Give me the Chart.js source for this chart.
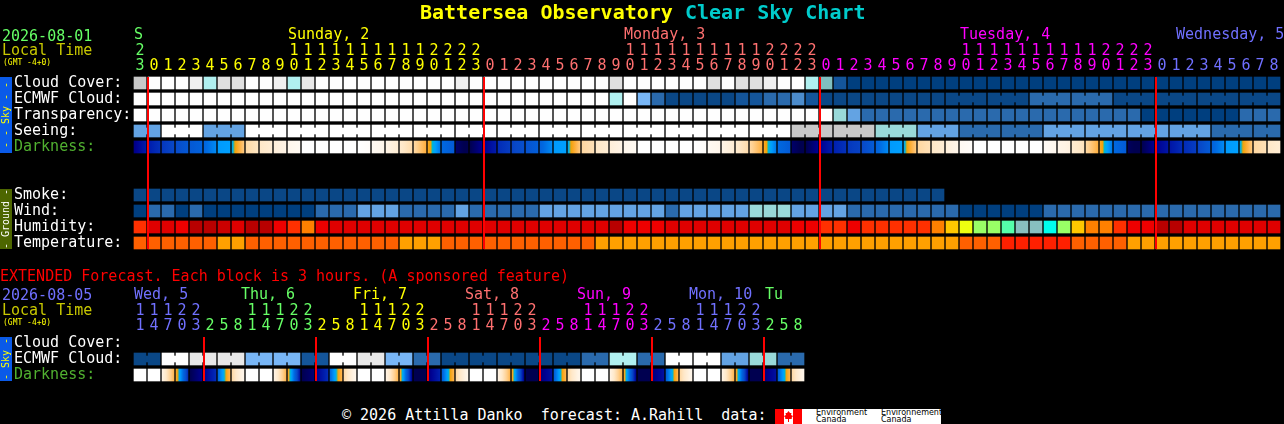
<!DOCTYPE html>
<html>
<head>
<meta charset="utf-8">
<title>Battersea Observatory Clear Sky Chart</title>
<script src="https://cdn.jsdelivr.net/npm/chart.js@4"></script>
<style>
  html, body { margin: 0; padding: 0; background: #000; width: 1284px; height: 424px; overflow: hidden; }
  body { position: relative; font-family: "DejaVu Sans Mono", monospace; font-size: 15px; color: #fff; }
  canvas { position: absolute; left: 0; display: block; }
  .txt { position: absolute; white-space: pre; line-height: 15px; }
  #title { left: 420px; top: 0; font-size: 20px; line-height: 24px; font-weight: bold; color: #ffff00; }
  #title span { color: #00cccc; }
  .small { font-size: 8px; line-height: 10px; color: #ffff00; }
  #logo { position: absolute; left: 775px; top: 409px; width: 166px; height: 15px; background: #fff; overflow: hidden; }
  #logo i { position: absolute; top: 0; height: 15px; width: 9px; background: #ff0000; }
  #logo b { position: absolute; font: 8px/8px "DejaVu Sans", sans-serif; color: #000; white-space: pre; }
</style>
</head>
<body>
<canvas id="skyChart" width="1284" height="262" style="top:0"></canvas>
<canvas id="extChart" width="1284" height="125" style="top:265px"></canvas>

<div class="txt" id="title">Battersea Observatory<span> Clear Sky Chart</span></div>
<div class="txt" style="left:2px;top:29px;color:#66ff66">2026-08-01</div>
<div class="txt" style="left:2px;top:43px;color:#c8c800">Local Time</div>
<div class="txt small" style="left:3px;top:58px">(GMT -4+0)</div>
<div class="txt" style="left:0;top:269px;color:#ff0000">EXTENDED Forecast. Each block is 3 hours. (A sponsored feature)</div>
<div class="txt" style="left:2px;top:288px;color:#7070ff">2026-08-05</div>
<div class="txt" style="left:2px;top:303px;color:#c8c800">Local Time</div>
<div class="txt small" style="left:3px;top:318px">(GMT -4+0)</div>
<div class="txt" style="left:342px;top:408px">© 2026 Attilla Danko  forecast: A.Rahill  data:</div>
<div id="logo">
  <i style="left:0"></i><i style="left:18px"></i>
  <svg width="9" height="15" style="position:absolute;left:9px;top:0"><polygon fill="#ff0000" points="4.5,2 6,4 7.5,4 7,6 9,7 7.5,9 8,10 5,10 5,13 4,13 4,10 1,10 1.5,9 0,7 2,6 1.5,4 3,4"/></svg>
  <b style="left:41px;top:0">Environment</b><b style="left:41px;top:7px">Canada</b>
  <b style="left:106px;top:0">Environnement</b><b style="left:106px;top:7px">Canada</b>
</div>

<script>
// hourly forecast (1 block = 1 hour)
var hours = [23,
  0,1,2,3,4,5,6,7,8,9,10,11,12,13,14,15,16,17,18,19,20,21,22,23,
  0,1,2,3,4,5,6,7,8,9,10,11,12,13,14,15,16,17,18,19,20,21,22,23,
  0,1,2,3,4,5,6,7,8,9,10,11,12,13,14,15,16,17,18,19,20,21,22,23,
  0,1,2,3,4,5,6,7,8];
var daySpans = [1, 24, 24, 24, 9];
var dayNames = ["S", "Sunday, 2", "Monday, 3", "Tuesday, 4", "Wednesday, 5"];
var dayCols = [0, 11, 35, 59, 74.43];
var midnights = [1, 25, 49, 73];

var rowNames = ["Cloud Cover:", "ECMWF Cloud:", "Transparency:", "Seeing:", "Darkness:", "", "", "Smoke:", "Wind:", "Humidity:", "Temperature:"];

var cloudCover = [75,100,100,100,90,70,80,80,100,100,
  90,70,85,100,100,100,100,100,100,100,
  100,100,100,90,100,100,100,100,100,100,
  100,100,100,100,80,100,100,100,100,100,
  100,80,100,80,80,90,100,100,70,55,
  10,0,0,0,0,0,0,0,0,0,
  0,0,0,0,0,0,0,0,0,0,
  0,0,0,0,0,0,0,0,0,0,0,0];
var ecmwfCloud = [100,100,100,100,100,100,100,100,100,100,
  100,100,100,100,100,100,100,100,100,100,
  100,100,100,100,100,100,100,100,100,100,
  100,100,100,100,70,100,50,20,5,5,
  5,5,5,10,10,20,20,30,10,5,
  5,5,5,5,5,5,5,5,5,5,
  5,5,5,5,20,20,20,20,20,20,
  5,5,5,5,5,5,5,5,5,5,5,5];
var transparency = [100,100,100,100,100,100,100,100,100,100,
  100,100,100,100,100,100,100,100,100,100,
  100,100,100,100,100,100,100,100,100,100,
  100,100,100,100,100,100,100,100,100,100,
  100,100,100,100,100,100,100,100,100,100,
  60,40,20,20,20,20,20,20,20,20,
  20,20,20,20,20,20,20,20,20,20,
  20,20,0,0,0,0,0,0,0,20,20,20];
var seeing = [40,40,100,100,100,40,40,40,100,100,
  100,100,100,100,100,100,100,100,100,100,
  100,100,100,100,100,100,100,100,100,100,
  100,100,100,100,100,100,100,100,100,100,
  100,100,100,100,100,100,100,75,75,75,
  75,75,75,60,60,60,40,40,40,20,
  20,20,20,20,20,40,40,40,40,40,
  40,40,40,40,40,40,40,20,20,20,20,20];
var smoke = [5,5,5,5,5,5,5,5,5,5,
  5,5,5,5,5,5,5,5,5,5,
  5,5,5,5,5,5,5,5,5,5,
  5,5,5,5,5,5,5,5,5,5,
  5,5,5,5,5,5,5,5,5,5,
  5,5,5,5,5,5,5,5];
var wind = [0,20,20,0,20,0,0,0,0,0,
  0,0,0,20,20,20,40,40,40,20,
  20,20,20,40,20,20,20,20,20,40,
  40,40,40,40,40,40,40,40,20,40,
  40,40,40,40,60,60,60,40,40,40,
  40,20,20,20,20,20,20,20,20,0,
  0,0,0,0,0,20,20,20,20,20,
  20,20,20,20,20,20,20,20,20,20,20,20];
var humidity = [85,95,95,90,100,100,97,95,100,100,
  90,85,80,90,95,95,95,95,95,95,
  95,95,95,95,95,95,95,95,95,95,
  95,95,95,95,100,90,90,90,95,95,
  95,95,95,95,95,95,95,90,90,85,
  85,90,85,85,85,85,85,80,75,70,
  65,65,60,50,50,55,65,75,80,80,
  85,90,90,100,100,95,95,95,95,95,95,95];
var temperature = [21,21,21,21,21,21,18,18,21,21,
  21,21,21,21,21,21,21,21,21,18,
  18,18,21,21,21,21,21,21,21,21,
  21,21,21,18,18,18,18,18,18,18,
  18,18,18,18,18,18,18,18,18,18,
  18,18,18,18,18,18,18,18,18,21,
  21,21,24,24,24,24,24,21,21,21,
  21,18,18,18,18,18,18,18,18,18,18,18];
// limiting magnitude at the left and right edge of each darkness block
var darkStart = [5.9,5.3,4.8,4.4,4.0,3.6,2.6,2.3,-0.4,-1,
  -1.6,-2.5,-4,-4,-4,-4,-4,-3,-2,-1.2,
  -0.3,1.4,3.5,6.1,6.3,5.8,5.0,4.6,4.2,3.7,
  2.6,2.3,-0.3,-1,-1.6,-2.5,-4,-4,-4,-4,
  -4,-3,-2,-1.2,-0.3,1.4,3.5,6.1,6.3,5.8,
  5.2,4.8,4.5,3.7,2.6,2.3,-0.3,-1,-1.6,-3,
  -4,-4,-4,-4,-4,-3.2,-2.2,-1.3,-0.3,1.4,
  3.5,6.2,6.3,5.8,5.4,5.0,4.6,3.7,2.6,2.3,-0.3,-1];
var darkEnd = [5.3,4.9,4.5,4.0,3.7,2.9,2.5,0.2,-0.9,-1.4,
  -2,-3,-4,-4,-4,-4,-3.5,-2.4,-1.4,-0.5,
  1,3.2,3.9,6.4,5.8,5.3,4.7,4.3,3.8,2.9,
  2.5,0.2,-0.7,-1.4,-2,-3,-4,-4,-4,-4,
  -3.5,-2.4,-1.4,-0.5,1,3.2,3.9,6.4,5.8,5.3,
  4.9,4.6,3.9,2.9,2.5,0.2,-0.7,-1.4,-2.2,-3.5,
  -4,-4,-4,-4,-4,-2.6,-1.8,-0.8,1,3.2,
  3.9,6.4,5.8,5.4,5.0,4.7,3.9,2.9,2.5,0.2,-0.7,-1.4];

// extended forecast (1 block = 3 hours)
var extHours = [11,14,17,20,23,2,5,8,11,14,17,20,23,2,5,8,11,14,17,20,23,2,5,8,
  11,14,17,20,23,2,5,8,11,14,17,20,23,2,5,8,11,14,17,20,23,2,5,8];
var extSpans = [5, 8, 8, 8, 8, 8, 3];
var extDayNames = ["Wed, 5", "Thu, 6", "Fri, 7", "Sat, 8", "Sun, 9", "Mon, 10", "Tu"];
var extDayCols = [0, 7.64, 15.64, 23.64, 31.64, 39.64, 45.07];
var extMidnights = [5, 13, 21, 29, 37, 45];
var extRowNames = ["Cloud Cover:", "ECMWF Cloud:", "Darkness:"];
var extEcmwf = [5,5,100,100,85,85,85,85,50,50,50,50,10,10,100,100,85,85,50,50,20,20,5,5,
  5,5,5,5,5,5,5,5,20,20,70,70,20,20,100,100,100,100,40,40,60,60,20,20];
var extDarkStart = [-4,-4,-2,1.3,6.3,5.8,3.6,-0.4,-4,-4,-2,1.3,6.3,5.8,3.6,-0.4,-4,-4,-2,1.3,6.3,6,3.8,-0.4,
  -4,-4,-2,1.3,6.3,6,3.8,-0.4,-4,-4,-2,1.3,6.3,6,3.8,-0.4,-4,-4,-2,1.3,6.3,6,3.8,-0.4];
var extDarkEnd = [-4,-4,0.8,5,5.8,5,0.8,-2.3,-4,-4,0.8,5.5,6,5,0.8,-2.3,-4,-4,0.8,5.8,6.3,5.2,0.8,-2.3,
  -4,-4,0.8,5.8,6.3,5.5,0.8,-2.3,-4,-4,0.8,5.8,6.3,5.5,0.8,-2.3,-4,-4,0.8,5.8,6.3,5.5,0.8,-2.3];

// colours
var dayColors = ["#66ff66", "#ffff00", "#ff7070", "#ff00ff", "#7070ff"];
var extDayColors = ["#7070ff", "#66ff66", "#ffff00", "#ff7070", "#ff00ff", "#7070ff", "#66ff66"];
var skyColors = {0:"#003f7f", 5:"#0a4786", 10:"#14559a", 20:"#2a6aad", 30:"#4c8ccc", 40:"#63a3e3", 50:"#78b6f6",
  55:"#80c0c0", 60:"#99d9d9", 70:"#b0f0f0", 75:"#c8c8c8", 80:"#e0e0e0", 85:"#e8e8e8", 90:"#f0f0f0", 100:"#fefefe"};
var humidityColors = {100:"#b80000", 97:"#cc0000", 95:"#e00000", 90:"#ee0000", 85:"#ff3000", 80:"#ff8000",
  75:"#ffc800", 70:"#eeff10", 65:"#99ff66", 60:"#55ffaa", 55:"#00ffee", 50:"#88c0c0"};
var tempColors = {18:"#ffa000", 21:"#ff6000", 24:"#ff2000"};
var darkRamp = [[-4,255,255,255],[-2,255,244,230],[-1,255,232,200],[0,255,208,144],[1,255,176,64],[1.9,240,160,0],
  [2,0,192,192],[2.1,0,176,224],[2.5,0,160,255],[3.5,0,104,224],[4.5,8,72,200],[5.2,0,32,176],[5.8,0,0,144],[6.3,0,0,80]];

var FONT = "'DejaVu Sans Mono', monospace";

function rampColor(m) {
  for (var i = 1; i < darkRamp.length; i++) {
    if (m <= darkRamp[i][0]) {
      var a = darkRamp[i - 1], b = darkRamp[i];
      var t = Math.max(0, (m - a[0]) / (b[0] - a[0]));
      return "rgb(" + Math.round(a[1] + (b[1] - a[1]) * t) + "," + Math.round(a[2] + (b[2] - a[2]) * t) + "," + Math.round(a[3] + (b[3] - a[3]) * t) + ")";
    }
  }
  return "rgb(0,0,80)";
}

function spanIndex(spans, col) {
  var end = 0;
  for (var i = 0; i < spans.length; i++) {
    end += spans[i];
    if (col < end) return i;
  }
  return spans.length - 1;
}

// one row of blocks
function blockRow(values, row, colors) {
  return {
    data: values.map(function (v, i) { return { x: i, y: [row - 0.375, row + 0.375] }; }),
    backgroundColor: values.map(function (v) { return colors[v]; }),
    barThickness: 12,
    grouped: false,
    borderWidth: 0
  };
}

// thin piece joining blocks that come from one 3 hour forecast
function bridgeRow(values, row, colors, first, size) {
  var pts = [], cols = [];
  values.forEach(function (v, i) {
    if (i >= first && i + 1 < values.length && ((i - first) % size) != size - 1) {
      pts.push({ x: i + 0.5, y: [row - 0.1875, row + 0.1875] });
      cols.push(colors[v]);
    }
  });
  return { data: pts, backgroundColor: cols, barThickness: 2, grouped: false, borderWidth: 0 };
}

function darkRow(starts, ends, row) {
  return {
    data: starts.map(function (v, i) { return { x: i, y: [row - 0.375, row + 0.375] }; }),
    backgroundColor: function (ctx) {
      var i = ctx.dataIndex;
      if (i === undefined || !ctx.chart.scales.x) return "#000";
      var px = ctx.chart.scales.x.getPixelForValue(i);
      if (!isFinite(px)) return "#000";
      var g = ctx.chart.ctx.createLinearGradient(px - 6, 0, px + 6, 0);
      for (var k = 0; k <= 12; k++) {
        g.addColorStop(k / 12, rampColor(starts[i] + (ends[i] - starts[i]) * k / 12));
      }
      return g;
    },
    barThickness: 12,
    grouped: false,
    borderWidth: 0
  };
}

// red midnight lines, day names and the Sky / Ground side bars
var overlayPlugin = {
  id: "overlay",
  afterDatasetsDraw: function (chart, args, opts) {
    var c = chart.ctx, x = chart.scales.x;
    c.save();
    c.fillStyle = "#ff0000";
    opts.midnights.forEach(function (m) {
      c.fillRect(x.getPixelForValue(m - 0.5), opts.lineTop, 2, opts.lineBottom - opts.lineTop);
    });
    c.font = "15px " + FONT;
    c.textAlign = "left";
    c.textBaseline = "middle";
    opts.dayNames.forEach(function (name, i) {
      c.fillStyle = opts.dayColors[i];
      c.fillText(name, x.getPixelForValue(opts.dayCols[i]) - 6, opts.dayY);
    });
    opts.bars.forEach(function (b) {
      c.fillStyle = b.fill;
      c.fillRect(0, b.top, 12, b.bottom - b.top);
      c.save();
      c.translate(6, (b.top + b.bottom) / 2);
      c.rotate(-Math.PI / 2);
      c.font = "10px " + FONT;
      c.textAlign = "center";
      c.fillStyle = b.color;
      c.fillText(b.text, 0, 0);
      c.restore();
    });
    c.restore();
  }
};

function makeChart(id, datasets, cfg) {
  var labelRows = [];
  cfg.rowNames.forEach(function (n, i) { if (n) labelRows.push(i); });
  return new Chart(document.getElementById(id), {
    type: "bar",
    data: { datasets: datasets },
    plugins: [overlayPlugin],
    options: {
      responsive: false,
      animation: false,
      devicePixelRatio: 1,
      events: [],
      layout: { padding: { left: 14, right: 3, top: 0, bottom: cfg.bottom } },
      plugins: { legend: { display: false }, tooltip: { enabled: false }, overlay: cfg.overlay },
      scales: {
        x: {
          type: "linear",
          position: "top",
          offset: false,
          min: -0.5,
          max: 81.5,
          grid: { display: false, drawTicks: false },
          border: { display: false },
          afterFit: function (s) {
            s.height = cfg.axisHeight;
            s.paddingLeft = 0;
            s.paddingRight = 0;
          },
          afterBuildTicks: function (s) {
            s.ticks = cfg.hours.map(function (h, i) { return { value: i }; });
          },
          ticks: {
            autoSkip: false,
            maxRotation: 0,
            minRotation: 0,
            padding: 1,
            font: { family: FONT, size: 15, lineHeight: 1 },
            color: function (ctx) { return cfg.colors[spanIndex(cfg.spans, ctx.index)]; },
            callback: function (v) {
              var h = cfg.hours[v];
              return [h >= 10 ? String(Math.floor(h / 10)) : "", String(h % 10)];
            }
          }
        },
        y: {
          type: "linear",
          reverse: true,
          min: -0.5,
          max: cfg.rowNames.length - 0.5,
          grid: { display: false, drawTicks: false },
          border: { display: false },
          afterFit: function (s) {
            s.width = 119;
            s.paddingTop = 0;
            s.paddingBottom = 0;
          },
          afterBuildTicks: function (s) {
            s.ticks = labelRows.map(function (r) { return { value: r }; });
          },
          ticks: {
            autoSkip: false,
            crossAlign: "far",
            padding: 0,
            font: { family: FONT, size: 15 },
            color: function (ctx) {
              return cfg.rowNames[labelRows[ctx.index]] == "Darkness:" ? "#50b030" : "#ffffff";
            },
            callback: function (v) { return cfg.rowNames[v]; }
          }
        }
      }
    }
  });
}

makeChart("skyChart", [
  blockRow(cloudCover, 0, skyColors),
  blockRow(ecmwfCloud, 1, skyColors),
  bridgeRow(ecmwfCloud, 1, skyColors, 58, 3),
  blockRow(transparency, 2, skyColors),
  blockRow(seeing, 3, skyColors),
  bridgeRow(seeing, 3, skyColors, -1, 3),
  darkRow(darkStart, darkEnd, 4),
  blockRow(smoke, 7, skyColors),
  blockRow(wind, 8, skyColors),
  blockRow(humidity, 9, humidityColors),
  blockRow(temperature, 10, tempColors)
], {
  hours: hours, spans: daySpans, colors: dayColors, rowNames: rowNames, axisHeight: 75, bottom: 11,
  overlay: {
    midnights: midnights, lineTop: 77, lineBottom: 249, dayNames: dayNames, dayCols: dayCols, dayColors: dayColors, dayY: 35,
    bars: [
      { top: 77, bottom: 153, fill: "#0a5ae8", color: "#ffff00", text: "- - Sky - -" },
      { top: 189, bottom: 249, fill: "#4d6600", color: "#ffffff", text: "- Ground -" }
    ]
  }
});

makeChart("extChart", [
  bridgeRow(extEcmwf, 1, skyColors, 0, 2),
  blockRow(extEcmwf, 1, skyColors),
  darkRow(extDarkStart, extDarkEnd, 2)
], {
  hours: extHours, spans: extSpans, colors: extDayColors, rowNames: extRowNames, axisHeight: 70, bottom: 7,
  overlay: {
    midnights: extMidnights, lineTop: 72, lineBottom: 116, dayNames: extDayNames, dayCols: extDayCols, dayColors: extDayColors, dayY: 30,
    bars: [
      { top: 72, bottom: 116, fill: "#0a5ae8", color: "#ffff00", text: "- Sky -" }
    ]
  }
});
</script>
</body>
</html>
